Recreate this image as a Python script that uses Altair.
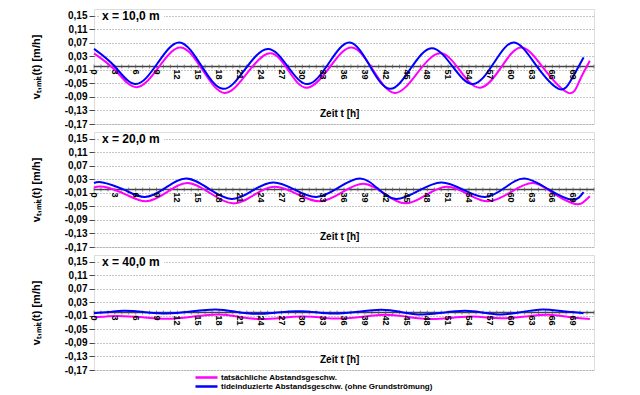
import altair as alt
import pandas as pd

# ---- data ----
PINK = "tatsächliche Abstandsgeschw."
BLUE = "tideinduzierte Abstandsgeschw. (ohne Grundströmung)"

p1_blue_t = [0, 3.0, 6.0, 9.15, 12.3, 15.45, 18.6, 21.8, 25.0, 27.9, 30.8, 33.8, 36.8, 39.7, 42.6, 45.6, 48.6, 51.6, 54.6, 57.55, 60.5, 63.7, 66.9, 68.7, 70.5]
p1_blue_v = [0.052, 0.0, -0.052, 0.0095, 0.071, 0.0025, -0.066, -0.007, 0.052, 0.0, -0.052, 0.0095, 0.071, 0.0025, -0.066, -0.006, 0.054, 0.001, -0.052, 0.0095, 0.071, 0.0025, -0.066, -0.040, 0.027]
p1_pink_t = [0, 3.05, 6.1, 9.3, 12.5, 15.65, 18.8, 22.05, 25.3, 28.0, 30.7, 33.9, 37.1, 40.2, 43.3, 46.55, 49.8, 52.7, 55.6, 58.6, 61.6, 64.95, 68.3, 69.85, 71.4]
p1_pink_v = [0.039, -0.011, -0.061, -0.0025, 0.056, -0.011, -0.078, -0.0195, 0.039, -0.012, -0.063, -0.0035, 0.056, -0.011, -0.078, -0.0195, 0.039, -0.012, -0.063, -0.0035, 0.056, -0.011, -0.078, -0.045, 0.017]

p2_blue_t = [0, 1.25, 4.3, 7.3, 10.3, 13.3, 16.55, 19.8, 22.8, 25.8, 28.9, 32.0, 35.15, 38.3, 40.9, 43.5, 46.75, 50.0, 53.15, 56.3, 59.15, 62.0, 65.4, 68.8, 70.5]
p2_blue_v = [0.019, 0.021, -0.0005, -0.022, 0.005, 0.0325, 0.002, -0.028, -0.0035, 0.021, -0.0005, -0.022, 0.005, 0.0325, 0.002, -0.028, -0.0035, 0.021, -0.0005, -0.022, 0.005, 0.0325, 0.001, -0.030, -0.008]
p2_pink_t = [0, 1.4, 4.45, 7.5, 10.5, 13.5, 16.75, 20.0, 23.0, 26.0, 29.25, 32.5, 35.65, 38.8, 41.8, 44.8, 47.8, 50.8, 53.8, 56.8, 60.0, 63.2, 66.1, 68.8, 70.2, 71.4]
p2_pink_v = [0.006, 0.008, -0.0135, -0.035, -0.008, 0.019, -0.011, -0.041, -0.0165, 0.008, -0.0135, -0.035, -0.009, 0.017, -0.012, -0.041, -0.0165, 0.008, -0.0135, -0.035, -0.008, 0.019, -0.011, -0.040, -0.041, -0.020]

p3_blue_t = [0, 2.15, 4.3, 7.4, 10.5, 14.0, 17.5, 20.4, 23.3, 26.4, 29.5, 32.1, 34.7, 38.05, 41.4, 44.3, 47.2, 50.3, 53.4, 56.05, 58.7, 61.65, 64.6, 67.55, 70.5]
p3_blue_v = [-0.002, 0.0015, 0.005, 0.001, -0.003, 0.003, 0.009, 0.0025, -0.004, 0.0, 0.004, 0.0005, -0.003, 0.0025, 0.008, 0.001, -0.006, -0.0005, 0.005, -0.0005, -0.006, 0.0015, 0.009, 0.0035, -0.002]
p3_pink_t = [0, 1.75, 3.5, 7.0, 10.5, 14.25, 18.0, 21.0, 24.0, 27.0, 30.0, 32.75, 35.5, 38.7, 41.9, 45.2, 48.5, 51.35, 54.2, 56.55, 58.9, 62.15, 65.4, 68.4, 71.4]
p3_pink_v = [-0.014, -0.012, -0.010, -0.014, -0.0185, -0.012, -0.006, -0.013, -0.0195, -0.016, -0.012, -0.015, -0.018, -0.0125, -0.007, -0.013, -0.0195, -0.016, -0.012, -0.0145, -0.017, -0.012, -0.007, -0.013, -0.0195]

panel_titles = ["x = 10,0 m", "x = 20,0 m", "x = 40,0 m"]
y_ticks = [-0.17, -0.13, -0.09, -0.05, -0.01, 0.03, 0.07, 0.11, 0.15]
x_minor = list(range(0, 73))
x_labels = list(range(0, 70, 3))
zero_line = [0.0]

series = [
    (p1_pink_t, p1_pink_v, p1_blue_t, p1_blue_v),
    (p2_pink_t, p2_pink_v, p2_blue_t, p2_blue_v),
    (p3_pink_t, p3_pink_v, p3_blue_t, p3_blue_v),
]

W, H = 500, 115
FONT = "Liberation Sans"

ticks_df = pd.DataFrame({"t": x_minor, "v": 0.0})
labels_df = pd.DataFrame({"t": x_labels, "v": 0.0, "lab": [str(x) for x in x_labels]})
zero_df = pd.DataFrame({"v": zero_line})

xs = alt.Scale(domain=[0, 72], nice=False, zero=False)
ys = alt.Scale(domain=[-0.17, 0.17], nice=False, zero=False)
color_scale = alt.Scale(domain=[PINK, BLUE], range=["#FF00FF", "#0000FF"])

label_expr = "replace(replace(format(datum.value, '.2f'), '.', ','), '\u2212', '-')"

yaxis = alt.Axis(values=y_ticks, labelExpr=label_expr, grid=True, gridDash=[1, 2],
                 gridColor="#8c8c8c", gridWidth=1, tickSize=5, tickColor="#444444",
                 domain=False, labelFont=FONT, labelFontWeight="bold", labelFontSize=10,
                 labelColor="#000000", labelPadding=2, labelOverlap=False, labelFlush=False,
                 labelBound=False,
                 title="v\u209c,\u2098\u1d62\u209c(t) [m/h]", titleFont=FONT,
                 titleFontSize=11, titleFontWeight="bold", titleColor="#000000",
                 titlePadding=23)


def Y():
    return alt.Y("v:Q", scale=ys, axis=yaxis)


def X():
    return alt.X("t:Q", scale=xs, axis=None)


def panel(i):
    pt, pv, bt, bv = series[i]
    df = pd.concat([
        pd.DataFrame({"t": pt, "v": pv, "s": PINK, "o": 0}),
        pd.DataFrame({"t": bt, "v": bv, "s": BLUE, "o": 1}),
    ])
    last = i == 2
    legend = None
    if last:
        legend = alt.Legend(orient="none", legendX=100, legendY=118, title=None,
                            symbolType="stroke", symbolSize=484, symbolStrokeWidth=2.5,
                            clipHeight=9, rowPadding=0, labelFontSize=8, labelFont=FONT,
                            labelFontWeight="bold", labelOffset=2, padding=0, labelLimit=400)
    zero = alt.Chart(zero_df).mark_rule(color="#444444", strokeWidth=1.5).encode(y=Y())
    tk = alt.Chart(ticks_df).mark_tick(orient="vertical", size=4, thickness=1, color="#555555").encode(
        x=X(), y=Y())
    lines = alt.Chart(df).mark_line(interpolate="natural", strokeWidth=2).encode(
        x=X(),
        y=Y(),
        color=alt.Color("s:N", scale=color_scale, legend=legend),
        order="o:Q",
        detail="s:N",
    )
    lab = alt.Chart(labels_df).mark_text(angle=90, align="left", baseline="middle", dx=3,
                                         fontSize=9, font=FONT, fontWeight="bold", color="#000000").encode(
        x=X(), y=Y(), text="lab:N")
    tdf = pd.DataFrame({"txt": [panel_titles[i]]})
    bg = alt.Chart(tdf).mark_rect(color="white").encode(
        x=alt.value(5), x2=alt.value(70), y=alt.value(1), y2=alt.value(13))
    ttl = alt.Chart(tdf).mark_text(align="left", baseline="middle", fontSize=12, font=FONT,
                                   fontWeight="bold", color="#000000").encode(
        x=alt.value(8), y=alt.value(7), text="txt:N")
    zdf = pd.DataFrame({"txt": ["Zeit t [h]"]})
    zt = alt.Chart(zdf).mark_text(align="left", baseline="middle", fontSize=10, font=FONT,
                                  fontWeight="bold", color="#000000").encode(
        x=alt.value(226), y=alt.value(H - 10), text="txt:N")
    return alt.layer(zero, tk, lines, lab, bg, ttl, zt).properties(width=W, height=H)


chart = alt.vconcat(panel(0), panel(1), panel(2), spacing=8, bounds="flush").resolve_scale(
    color="independent"
).properties(
    padding={"left": 21, "top": 0, "right": 5, "bottom": 0}
).configure_view(stroke="#555555", strokeWidth=2).configure(background="white")

chart.save("out.html", embed_options={"renderer": "svg", "actions": False})
